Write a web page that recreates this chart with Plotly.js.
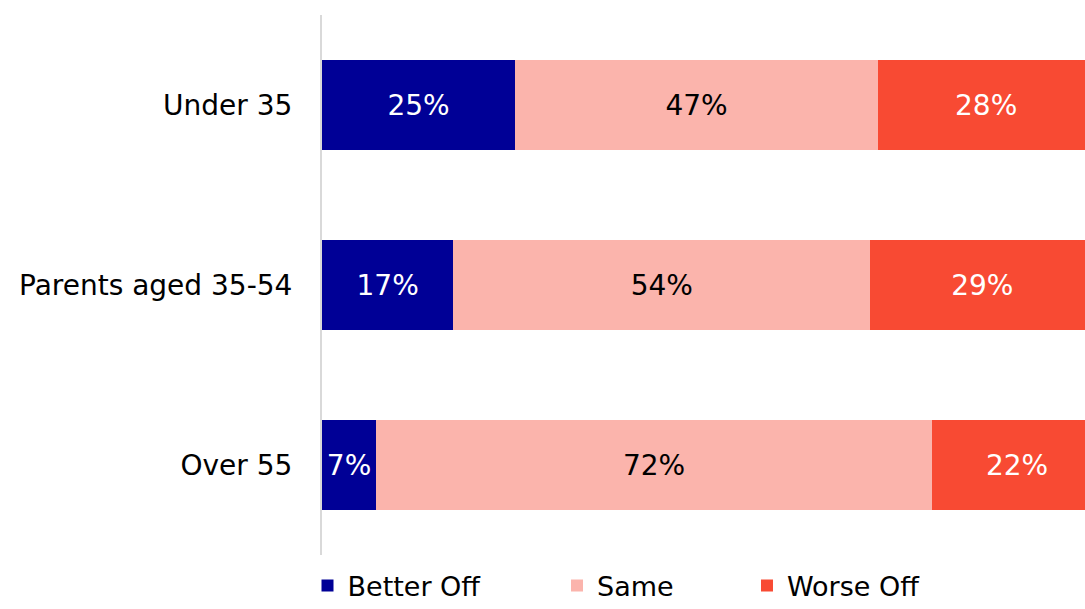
<!DOCTYPE html>
<html><head><meta charset="utf-8">
<script src="https://cdn.plot.ly/plotly-3.0.1.min.js"></script>
<style>html,body{margin:0;padding:0;background:#fff}#chart{width:1085px;height:609px}</style>
</head><body><div id="chart"></div>
<script>
const categories = ["Under 35", "Parents aged 35-54", "Over 55"];
const seriesNames = ["Better Off", "Same", "Worse Off"];
const betterOff = [25, 17, 7];
const same = [47, 54, 72];
const worseOff = [28, 29, 22];
const colors = ["#000096", "#FBB4AC", "#F84A33"];
const textColors = ["#ffffff", "#000000", "#ffffff"];
const FONT = "DejaVu Sans, sans-serif";
const FS = 28;

const values = [betterOff, same, worseOff];
const legendIds = ["legend", "legend2", "legend3"];
const legendX = [-0.019, 0.308, 0.557];

const traces = values.map((v, i) => ({
  type: "bar",
  orientation: "h",
  name: seriesNames[i],
  legend: legendIds[i],
  y: categories,
  x: v,
  text: v.map(d => d + "%"),
  textposition: "inside",
  insidetextanchor: "middle",
  textangle: 0,
  insidetextfont: {family: FONT, size: FS, color: textColors[i]},
  marker: {color: colors[i], line: {width: 0}},
  hoverinfo: "skip"
}));

const layout = {
  width: 1085, height: 609,
  margin: {l: 322, r: 0, t: 15, b: 54, pad: 0, autoexpand: false},
  barmode: "stack",
  bargap: 0.5,
  paper_bgcolor: "#fff", plot_bgcolor: "#fff",
  font: {family: FONT, size: FS, color: "#000"},
  showlegend: true,
  xaxis: {range: [0, 98.8], showgrid: false, zeroline: false, showticklabels: false,
          showline: false, ticks: "", fixedrange: true},
  yaxis: {autorange: "reversed", showgrid: false, zeroline: false, showline: true,
          linecolor: "#d9d9d9", linewidth: 2, ticks: "", ticklabelstandoff: 22,
          tickfont: {family: FONT, size: FS, color: "#000"}, fixedrange: true}
};
legendIds.forEach((id, i) => {
  layout[id] = {orientation: "h", x: legendX[i], xanchor: "left", y: -0.012, yanchor: "top",
                font: {family: FONT, size: 27, color: "#000"}, bgcolor: "rgba(0,0,0,0)"};
});

Plotly.newPlot("chart", traces, layout, {displayModeBar: false, staticPlot: true});
</script>
</body></html>
